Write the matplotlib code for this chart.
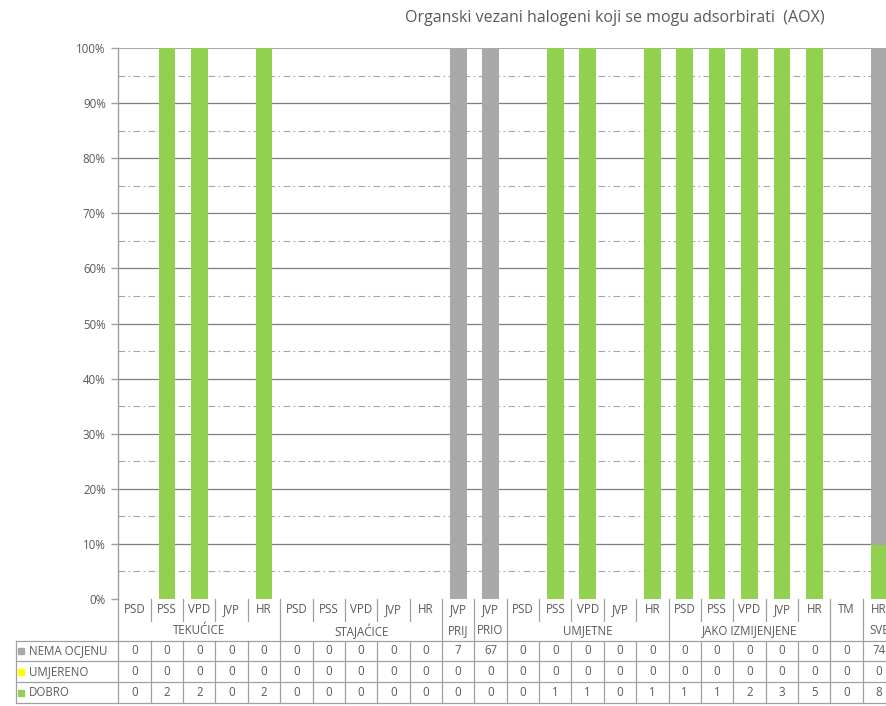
import matplotlib
matplotlib.use("Agg")
import matplotlib.pyplot as plt
import matplotlib.transforms as mtransforms
import numpy as np

plt.rcParams['font.family'] = ['Open Sans', 'DejaVu Sans']

# ---- data ----
categories = ["PSD", "PSS", "VPD", "JVP", "HR",
              "PSD", "PSS", "VPD", "JVP", "HR",
              "JVP", "JVP",
              "PSD", "PSS", "VPD", "JVP", "HR",
              "PSD", "PSS", "VPD", "JVP", "HR",
              "TM", "HR"]
groups = [("TEKUĆICE", 0, 4), ("STAJAĆICE", 5, 9), ("PRIJ", 10, 10), ("PRIO", 11, 11),
          ("UMJETNE", 12, 16), ("JAKO IZMIJENJENE", 17, 21), ("", 22, 22), ("SVE", 23, 23)]
nema_ocjenu = [0, 0, 0, 0, 0, 0, 0, 0, 0, 0, 7, 67, 0, 0, 0, 0, 0, 0, 0, 0, 0, 0, 0, 74]
umjereno = [0] * 24
dobro = [0, 2, 2, 0, 2, 0, 0, 0, 0, 0, 0, 0, 0, 1, 1, 0, 1, 1, 1, 2, 3, 5, 0, 8]
series = [("NEMA OCJENU", nema_ocjenu, "#A9A9A9"),
          ("UMJERENO", umjereno, "#FFFF00"),
          ("DOBRO", dobro, "#92D050")]
title = "Organski vezani halogeni koji se mogu adsorbirati  (AOX)"

# ---- figure ----
W, H = 887, 706
fig = plt.figure(figsize=(W / 100, H / 100), dpi=100)
fx = lambda px: px / W
fy = lambda py: 1 - py / H

ncol = len(categories)
colw = 32.37
left_px, top_px, bot_px = 118.3, 48, 599
ax = fig.add_axes([fx(left_px), fy(bot_px), ncol * colw / W, (bot_px - top_px) / H])
ax.set_xlim(-0.5, ncol - 0.5)
ax.set_ylim(0, 100)

n = np.array(nema_ocjenu, float)
u = np.array(umjereno, float)
d = np.array(dobro, float)
tot = n + u + d
safe = np.where(tot == 0, 1, tot)
pd_ = d / safe * 100
pu_ = u / safe * 100
pn_ = n / safe * 100
x = np.arange(ncol)
bw = 0.515
ax.bar(x, pd_, bw, color="#92D050", zorder=3)
ax.bar(x, pu_, bw, bottom=pd_, color="#FFFF00", zorder=3)
ax.bar(x, pn_, bw, bottom=pd_ + pu_, color="#A9A9A9", zorder=3)

# grid
for v in range(10, 100, 10):
    ax.axhline(v, color="#7F7F7F", lw=0.9, zorder=1)
ax.axhline(100, color="#A6A6A6", lw=1.4, zorder=1)
for v in range(5, 100, 10):
    ax.axhline(v, color="#A6A6A6", lw=0.8, linestyle=(0, (6, 3, 1.5, 3)), zorder=1)

for s in ["top", "right", "bottom"]:
    ax.spines[s].set_visible(False)
ax.spines["left"].set_color("#A0A0A0")
ax.spines["left"].set_linewidth(1.0)
ax.set_yticks(range(0, 101, 10))
ax.set_yticklabels([f"{v}%" for v in range(0, 101, 10)], fontsize=8.3, color="#595959")
ax.tick_params(axis="y", length=5, color="#A0A0A0", width=1, pad=4)
ax.set_xticks([])

fig.text(fx(615), fy(18), title, ha="center", va="center", fontsize=11.5, color="#595959")

# ---- data table ----
trans = mtransforms.blended_transform_factory(ax.transData, fig.transFigure)
lc = "#A0A0A0"
tfs = 8.3
tcol = "#595959"

def vline(xd, y0, y1):
    ax.plot([xd, xd], [fy(y0), fy(y1)], transform=trans, color=lc, lw=0.9, clip_on=False)

row_y = [641, 661.3, 682.3, 702.7]
for ry in row_y:
    fig.add_artist(plt.Line2D([fx(16), 1.0], [fy(ry), fy(ry)], color=lc, lw=0.9))
fig.add_artist(plt.Line2D([fx(16), fx(16)], [fy(641), fy(702.7)], color=lc, lw=0.9))
vline(-0.5, 599, 702.7)

group_ends = [g[2] for g in groups]
for i in range(ncol):
    xb = i + 0.5
    if i in group_ends:
        vline(xb, 599, 702.7)
    else:
        vline(xb, 599, 621)
        vline(xb, 641, 702.7)
    ax.text(i, fy(609.5), categories[i], transform=trans, ha="center", va="center",
            fontsize=tfs, color=tcol, clip_on=False)
for name, a, b in groups:
    ax.text((a + b) / 2, fy(631), name, transform=trans, ha="center", va="center",
            fontsize=tfs, color=tcol, clip_on=False)

row_c = [651, 671.8, 692.5]
for (lab, vals, col), yc in zip(series, row_c):
    fig.add_artist(plt.Rectangle((fx(18), fy(yc + 3)), 6 / W, 6 / H, color=col,
                                 transform=fig.transFigure))
    fig.text(fx(29), fy(yc), lab, ha="left", va="center", fontsize=tfs, color=tcol)
    for i, v in enumerate(vals):
        ax.text(i, fy(yc), str(v), transform=trans, ha="center", va="center",
                fontsize=tfs, color=tcol, clip_on=False)

fig.savefig("out.png", dpi=100)
